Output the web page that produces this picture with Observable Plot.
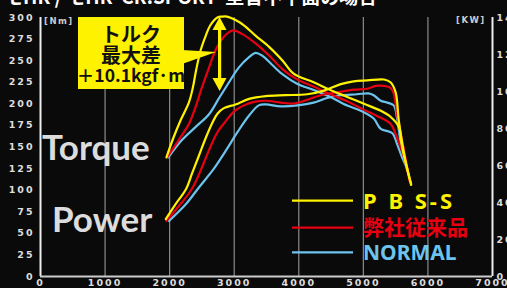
<!DOCTYPE html>
<html><head><meta charset="utf-8">
<script src="https://cdn.jsdelivr.net/npm/d3@7"></script>
<script src="https://cdn.jsdelivr.net/npm/@observablehq/plot@0.6"></script>
<style>
html,body{margin:0;padding:0;background:#0a0a0a;}
#chart{position:relative;width:507px;height:288px;overflow:hidden;}
g[aria-label$="tick label"] text{letter-spacing:2px;}
</style></head><body><div id="chart"></div>
<script>
// ---- data ----
const xTicks = [0,1000,2000,3000,4000,5000,6000,7000];
const gridRpm = [1000,2000,3000,4000,5000,6000];
const nmTicks = [0,25,50,75,100,125,150,175,200,225,250,275,300];
const kwTicks = [0,20,40,60,80,100,120,140];
const seriesNames = ["P B S-S","弊社従来品","NORMAL"];
const seriesColors = ["#fff200","#e60012","#6cc4ee"];

const pbsTorqueRpm = [1950,2060,2170,2300,2360,2410,2480,2560,2630,2740,2810,2890,3020,3150,3330,3540,3750,3920,4230,4490,4750,5010,5270,5420,5550,5600,5740];
const pbsTorque    = [138,161,181,202,219,239,262,279,291,300,301,301,297,291,279,266,250,235,225,216,208,200,192,185,173,150,106];
const oldTorqueRpm = [1960,2140,2300,2400,2500,2610,2710,2810,2920,2990,3120,3330,3540,3750,3980,4230,4490,4750,5010,5210,5420,5520,5630,5715];
const oldTorque    = [138,158,177,196,219,242,262,275,283,285,281,270,256,240,228,220,211,203,193,186,177,161,138,111];
const normalTorqueRpm = [1980,2190,2400,2610,2760,2920,3070,3230,3330,3430,3590,3750,3980,4230,4490,4750,4960,5160,5270,5450,5520,5600,5680];
const normalTorque    = [138,158,173,188,206,225,242,254,259,256,245,234,223,216,208,198,192,183,171,166,154,138,125];

const pbsPowerRpm = [1940,2090,2250,2350,2450,2560,2660,2740,2840,3020,3230,3490,3790,4130,4390,4650,4850,5060,5320,5420,5500,5550,5650,5740];
const pbsPower    = [31,39,47,56,65,75,83,88,91,93,96,97.5,98,98.5,100.5,104,105.5,106,106.5,105,99.5,84,63,50];
const oldPowerRpm = [1950,2140,2300,2400,2530,2630,2740,2870,2990,3150,3330,3490,3720,3920,4130,4340,4590,4850,5060,5190,5320,5420,5470,5520,5600,5680,5715];
const oldPower    = [30,38,45,51,61.5,70,78,84,89,92.5,94.5,95,94,93.5,95.5,98,99.5,101,101.5,103,103,102,99,88,73.5,59,52];
const normalPowerRpm = [1990,2250,2450,2680,2870,3050,3230,3380,3490,3720,3980,4230,4440,4650,4900,5080,5160,5270,5370,5470,5520,5550,5580,5680];
const normalPower    = [30,39,48,58,68,78,87,92.5,93,92,92.5,94,96.5,98,98.5,99,98,95,94,92.5,86,79,72,57];

const KW_TO_NM = 300 / 140; // right axis 0–140 kW shares the frame of left 0–300 Nm

const zip = (xs, ys) => xs.map((x, i) => ({rpm: x, v: ys[i]}));
const torqueSets = [zip(pbsTorqueRpm,pbsTorque), zip(oldTorqueRpm,oldTorque), zip(normalTorqueRpm,normalTorque)];
const powerSets  = [zip(pbsPowerRpm,pbsPower), zip(oldPowerRpm,oldPower), zip(normalPowerRpm,normalPower)];

const lineMarks = [];
for (const i of [2,1,0]) {
  lineMarks.push(Plot.line(torqueSets[i], {x:"rpm", y:"v", stroke:seriesColors[i], strokeWidth:2.2, curve:"catmull-rom"}));
  lineMarks.push(Plot.line(powerSets[i], {x:"rpm", y:d => d.v * KW_TO_NM, stroke:seriesColors[i], strokeWidth:2.2, curve:"catmull-rom"}));
}

const tickFont = {fontSize:9.5, fontWeight:"bold", fill:"#dddddd", fontFamily:"'DejaVu Sans', sans-serif", label:null};

const plot = Plot.plot({
  width:507, height:288,
  marginLeft:40, marginRight:15, marginTop:17, marginBottom:12,
  style:{background:"#0a0a0a", color:"#ddd", fontFamily:"'DejaVu Sans', sans-serif"},
  x:{domain:[0,7000], label:null},
  y:{domain:[0,300], label:null},
  marks:[
    Plot.ruleX(gridRpm, {y1:0, y2:300, stroke:"#8c8c8c", strokeWidth:1.2}),
    Plot.ruleX([0], {y1:0, y2:300, stroke:"#eeeeee", strokeWidth:2}),
    Plot.ruleX([7000], {y1:0, y2:300, stroke:"#eeeeee", strokeWidth:2}),
    Plot.ruleY([0], {x1:0, x2:7000, stroke:"#cccccc", strokeWidth:2}),
    Plot.axisX(xTicks, {tickSize:0, tickPadding:3, tickFormat:d => String(d), ...tickFont}),
    Plot.axisY(nmTicks, {anchor:"left", tickSize:0, tickPadding:6, tickFormat:d => String(d), ...tickFont}),
    Plot.axisY(kwTicks.map(k => k * KW_TO_NM), {anchor:"right", tickSize:0, tickPadding:4, tickFormat:d => String(Math.round(d / KW_TO_NM)), ...tickFont}),
    ...lineMarks
  ]
});

document.getElementById("chart").appendChild(plot);

// ---- decorations ----
const svg = d3.select(plot);
const deco = svg.append("g").attr("text-anchor", "start");

// title (clipped at top, as in the reference)
deco.append("text").attr("x", 4).attr("y", 4)
  .attr("font-family", "'Noto Sans CJK JP', sans-serif").attr("font-weight", "bold")
  .attr("font-size", 19).attr("fill", "#ffffff")
  .text("モHR / モHR  CR.SPORT  型音不平面の場合");

// unit labels
deco.append("text").attr("x", 44).attr("y", 24).attr("font-size", 8.5).attr("font-weight", "bold")
  .attr("fill", "#cccccc").attr("letter-spacing", "1.5px").attr("font-family", "'DejaVu Sans', sans-serif").text("[Nm]");
deco.append("text").attr("x", 456).attr("y", 23).attr("font-size", 8.5).attr("font-weight", "bold")
  .attr("fill", "#cccccc").attr("letter-spacing", "1.5px").attr("font-family", "'DejaVu Sans', sans-serif").text("[KW]");

// Torque / Power labels
deco.append("text").attr("x", 42).attr("y", 160).attr("font-family", "Lato, sans-serif").attr("font-weight", "bold")
  .attr("font-size", 35).attr("fill", "#dcdcdc").text("Torque");
deco.append("text").attr("x", 52).attr("y", 232).attr("font-family", "Lato, sans-serif").attr("font-weight", "bold")
  .attr("font-size", 35).attr("fill", "#dcdcdc").text("Power");

// callout box
deco.append("polygon").attr("points", "182,50 216,52 182,64").attr("fill", "#fff200");
deco.append("rect").attr("x", 78).attr("y", 17).attr("width", 106).attr("height", 72).attr("fill", "#fff200");
const boxText = [["トルク", 41.5, 20], ["最大差", 63, 20], ["＋10.1kgf·m", 81.5, 17.5]];
for (const [t, y, s] of boxText) {
  deco.append("text").attr("x", 131).attr("y", y).attr("text-anchor", "middle")
    .attr("font-family", "'Noto Sans CJK JP', sans-serif").attr("font-weight", "bold")
    .attr("font-size", s).attr("fill", "#111").text(t);
}
// double arrow
deco.append("rect").attr("x", 218).attr("y", 27).attr("width", 3.2).attr("height", 54).attr("fill", "#fff200");
deco.append("polygon").attr("points", "219.6,17 212.5,30 226.5,30").attr("fill", "#fff200");
deco.append("polygon").attr("points", "219.6,91 212.5,78 226.5,78").attr("fill", "#fff200");

// legend
const legendY = [200.7, 227.7, 252.3];
const legendBase = [208.5, 235, 260];
const legendSize = [22, 21, 21];
const legendSpacing = ["3px", "0px", "0px"];
seriesNames.forEach((name, i) => {
  deco.append("line").attr("x1", 292).attr("x2", 353).attr("y1", legendY[i]).attr("y2", legendY[i])
    .attr("stroke", seriesColors[i]).attr("stroke-width", 2.2);
  deco.append("text").attr("x", 363).attr("y", legendBase[i])
    .attr("font-family", i === 1 ? "'Noto Sans CJK JP', sans-serif" : "'Noto Sans', sans-serif")
    .attr("font-weight", "bold").attr("font-size", legendSize[i])
    .attr("letter-spacing", legendSpacing[i]).attr("fill", seriesColors[i]).text(name);
});
</script></body></html>
